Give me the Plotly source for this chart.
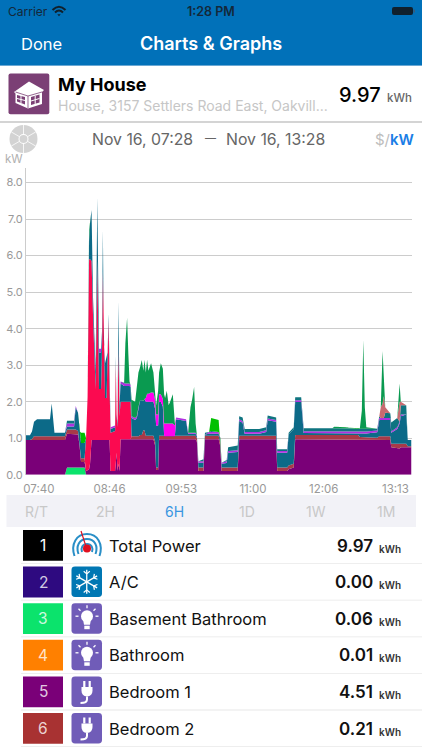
import math
import plotly.graph_objects as go

# minutes after 07:28
minutes = [
    0, 3.7, 5.6, 7.5, 10.3, 22.4, 24.0, 25.5, 26.6, 36.4,
    38.3, 44.9, 46.4, 48.6, 50.0, 51.4, 54.7, 56.1, 57.5, 58.9,
    59.8, 61.2, 62.6, 65.0, 66.6, 67.3, 68.2, 70.1, 71.0, 71.8,
    72.7, 73.8, 75.2, 76.2, 77.1, 78.0, 79.0, 83.2, 83.8, 84.6,
    85.5, 86.3, 87.4, 88.3, 91.6, 92.8, 94.4, 95.6, 96.7, 97.7,
    98.6, 101.9, 103.5, 105.0, 106.5, 108.1, 109.6, 110.6, 111.9, 113.1,
    114.3, 116.8, 119.0, 120.6, 121.5, 123.4, 124.3, 125.9, 127.8, 129.0,
    129.9, 131.5, 133.2, 134.6, 137.1, 139.0, 140.2, 149.5, 151.4, 153.6,
    155.1, 157.0, 158.4, 159.6, 161.0, 165.7, 167.1, 171.0, 172.9, 179.9,
    181.3, 182.7, 187.4, 188.8, 197.7, 199.1, 202.3, 204.2, 217.8, 224.3,
    225.7, 233.6, 234.6, 243.9, 245.3, 250.0, 251.4, 257.0, 259.3, 286.0,
    287.9, 298.1, 310.3, 311.7, 313.6, 315.0, 316.4, 317.8, 328.0, 329.9,
    331.3, 333.0, 334.1, 335.5, 340.2, 341.1, 346.7, 348.9, 350.0, 355.1,
    356.5, 360.0,
]

basement = [
    0, 0, 0, 0, 0, 0, 0, 0, 0, 0,
    .2, .2, .2, .2, .2, .2, .2, 0, 0, 0,
] + [0] * 112

bedroom1 = [
    .95, .95, .95, .95, .95, .95, .95, .95, .95, .95,
    .92, .92, .92, .9, .6, .15, .15, .1, .12, .15,
    .3, .95, .95, .95, .95, .95, .95, .95, .95, .95,
    .95, .95, .95, .95, .95, .95, .1, .1, .3, .6,
    .1, .3, .1, .97, .97, .97, .97, .97, .97, .97,
    .97, .97, .97, .97, .97, .97, .97, .97, .97, .97,
    .97, .97, .97, .8, .13, .13, .97, .97, .97, .97,
    .97, .97, .97, .97, .97, .97, .97, .97, .97, .97,
    .97, .97, .97, .9, .1, .1, .97, .97, .97, .97,
    .8, .1, .1, .1, .1, .97, .97, .97, .97, .97,
    .97, .97, .1, .1, .15, .2, .97, .97, .97, .97,
    .97, .97, .97, .95, .95, .95, .95, .95, .95, .95,
    .95, .95, .95, .95, .95, .75, .72, .72, .75, .75,
    .75, .75,
]

bedroom2 = [
    0, 0, .03, .1, .1, .1, .1, .1, .1, .1,
    .12, .12, .12, .1, .1, .1, .1, 0, 0, 0,
    0, 0, 0, 0, 0, 0, 0, 0, 0, 0,
    0, 0, 0, 0, 0, 0, 0, 0, 0, 0,
    0, 0, 0, 0, 0, 0, 0, 0, 0, 0,
    .08, .08, .08, .08, .12, .12, .25, .25, .1, .1,
    .1, .1, .1, .1, .07, .07, .1, .1, .1, .08,
    .08, .08, .08, .08, .08, .08, .1, .1, .1, .1,
    .1, .1, .1, .1, .1, .1, .1, .1, .1, .1,
    .1, .1, .1, .1, .1, .1, .1, .1, .1, .1,
    .1, .1, .1, .1, .1, .1, .12, .12, .12, .12,
    .12, .12, .12, .08, .08, .08, .08, .08, .06, .1,
    .1, .1, .1, .1, .1, .1, .13, .13, .1, .1,
    .03, .03,
]

pink = [
    0, 0, 0, 0, 0, 0, 0, 0, 0, 0,
    0, 0, 0, 0, 0, 0, 0, .9, 2.0, 5.75,
    5.6, 4.9, 3.4, 1.4, 4.9, 3.0, 1.4, 1.4, 2.5, 4.6,
    2.4, 1.15, 1.15, 2.0, 3.3, 1.5, 1.05, 1.1, 2.75, 1.0,
    1.2, 3.3, 1.5, 1.03, 1.03, 1.03, 1.03, 1.03, 1.03, 1.03,
] + [0] * 82

teal = [
    .13, .13, .2, .4, .47, .47, .9, .4, .1, .1,
    .08, .08, .6, .5, .3, .42, .42, 0, 0, .5,
    1.0, 1.4, .5, .5, 1.75, .5, 1.0, 1.0, .5, 1.15,
    .3, .95, 1.1, .4, .15, .1, .1, .1, .2, .05,
    .1, 1.15, .3, .5, .43, .43, .43, .43, .43, .4,
    .5, .45, .5, .75, .95, .95, .8, .85, .93, .93,
    .93, .93, .93, .9, 1.15, 1.15, .93, .93, .8, 0,
    0, 0, 0, 0, 0, 0, .45, .4, .05, .05,
    .05, .05, .05, .05, .13, .13, .03, .05, .05, .05,
    .1, .1, .12, .4, .42, .4, .35, .05, .05, .1,
    .42, .38, .4, .4, .85, .95, .9, .9, .05, .05,
    .05, .05, .05, .1, .1, .1, .1, .1, .15, .45,
    .45, .45, .45, .45, .45, .3, .4, .55, .75, .8,
    .17, .17,
]

violet = [
    0, 0, 0, 0, 0, 0, 0, 0, 0, 0,
    .08, .08, .04, 0, 0, 0, 0, 0, 0, 0,
    0, 0, 0, 0, 0, 0, .1, .1, 0, 0,
    0, 0, .05, 0, 0, 0, .05, .05, 0, 0,
    0, 0, 0, .05, .07, .07, .07, .07, .07, .05,
    .05, .05, .05, .05, 0, 0, 0, 0, 0, 0,
    0, 0, 0, 0, 0, 0, 0, 0, 0, 0,
    0, 0, 0, 0, 0, 0, .05, .05, .03, .03,
    .03, .03, .03, .03, .04, .04, 0, .05, .05, .05,
    .03, .03, .05, .05, .05, .05, .05, .05, .05, .05,
    .05, .05, .05, .05, 0, 0, .05, .05, .05, .05,
    .05, .05, .05, .05, .05, .05, .05, .05, .05, .05,
    .05, .05, .05, .05, .05, .03, .05, .05, .05, 0,
    0, 0,
]

magenta = [0] * 58 + [
    .1, .22, .22, .25, .25, .25, .3, .3, .2, .2,
    .2, .35, .35, .35, .35, .35, .35, .3,
] + [0] * 56

teal_top = [
    0, 0, 0, 0, 0, 0, 0, 0, 0, 0,
    .08, .08, 0, 0, 0, 0, 0, 0, 0, 0,
] + [0] * 64 + [
    0, .05, .05, 0, .03, 0, 0, 0, .03, .1,
    .13, .08, .1, .08, .08, .08, .08, .07, .05, .05,
    .05, .05, .08, .08, .08, .08, .08, .08, .08, .07,
    .07, .07, .07, .07, .05, .05, 0, 0, 0, .15,
    .13, .25, .25, 0, .25, .25, 0, 0,
]

salmon = [0] * 120 + [.3, .4, .6, .15, 0, 0, 0, .55, .1, 0, 0, 0]

green = [
    0, 0, 0, 0, 0, 0, 0, 0, 0, 0,
    0, 0, 0, 0, 0, 0, 0, 0, 0, .3,
    0, 0, 0, 0, 0, 0, 0, 0, 0, 0,
    0, 0, 0, 0, 0, 0, 0, 0, 0, 0,
    0, 0, 0, 0, 0, 1.1, 1.8, .8, .05, 0,
    .45, .45, .8, .95, .9, 1.1, .83, 1.08, .7, .93,
    .63, .8, .55, .25, .25, .65, .6, .85, .83, .8,
    .7, .9, .5, .6, .8, .05, 0, 0, 0, .7,
    .9, 1.25, .25, 0, 0, 0, 0, 0, 0, 0,
    0, 0, 0, 0, 0, 0, 0, 0, 0, 0,
    0, 0, 0, 0, 0, 0, 0, 0, 0, 0,
    .04, .03, 0, 0, .5, 2.44, .6, .05, 0, 0,
    0, 1.44, .4, 0, 0, 0, 0, .5, 0, 0,
    0, 0,
]

lime = [0] * 15 + [.28, .28] + [0] * 71 + [.35, .33] + [0] * 42

tick_minutes = [12, 78, 145, 212, 278, 345]
tick_labels = ['07:40', '08:46', '09:53', '11:00', '12:06', '13:13']
y_ticks = [0, 1, 2, 3, 4, 5, 6, 7, 8]
y_labels = ['0.0', '1.0', '2.0', '3.0', '4.0', '5.0', '6.0', '7.0', '8.0']

ranges = ['R/T', '2H', '6H', '1D', '1W', '1M']
range_x = [36, 105, 174, 247, 316, 386]

rows = ['Total Power', 'A/C', 'Basement Bathroom', 'Bathroom', 'Bedroom 1', 'Bedroom 2']
row_values = ['9.97', '0.00', '0.06', '0.01', '4.51', '0.21']
row_colors = ['#000000', '#2e0a80', '#0be36c', '#ff8000', '#7a0078', '#a83232']
row_icons = ['gauge', 'snow', 'bulb', 'bulb', 'plug', 'plug']

W, H = 422, 750
FONT = 'Inter'

layers = [
    ('Basement Bathroom', basement, '#0be36c'),
    ('Bedroom 1', bedroom1, '#7a0078'),
    ('Bedroom 2', bedroom2, '#a83a48'),
    ('pink', pink, '#fb0a50'),
    ('teal', teal, '#0c6a88'),
    ('violet', violet, '#b030e0'),
    ('magenta', magenta, '#ff00f0'),
    ('teal top', teal_top, '#0f7480'),
    ('salmon', salmon, '#c86a70'),
    ('green', green, '#0a9a50'),
    ('lime', lime, '#00c000'),
]

fig = go.Figure()
for name, vals, col in layers:
    assert len(vals) == len(minutes), name
    fig.add_trace(go.Scatter(x=minutes, y=vals, name=name, mode='lines', stackgroup='one',
                             line=dict(width=0, color=col), fillcolor=col))


# page pixels -> paper coordinates (margins are zero, so paper == page)
def X(x):
    return x / W


def Y(y):
    return 1 - y / H


def path(d, ox=0, oy=0):
    out = []
    is_x = True
    for tok in d.split():
        if tok.isalpha():
            out.append(tok)
        else:
            v = float(tok)
            out.append(f'{X(v + ox):.5f}' if is_x else f'{Y(v + oy):.5f}')
            is_x = not is_x
    return ' '.join(out)


shapes = []
annotations = []


def fill(d, col, ox=0, oy=0):
    shapes.append(dict(type='path', xref='paper', yref='paper', path=path(d, ox, oy),
                       fillcolor=col, line=dict(width=0)))


def stroke(d, col, w=1.0, ox=0, oy=0):
    shapes.append(dict(type='path', xref='paper', yref='paper', path=path(d, ox, oy),
                       line=dict(color=col, width=w)))


def rect(x0, y0, x1, y1, col):
    shapes.append(dict(type='rect', xref='paper', yref='paper', x0=X(x0), x1=X(x1), y0=Y(y1), y1=Y(y0),
                       fillcolor=col, line=dict(width=0)))


def circle(cx, cy, r, col):
    shapes.append(dict(type='circle', xref='paper', yref='paper', x0=X(cx - r), x1=X(cx + r),
                       y0=Y(cy + r), y1=Y(cy - r), fillcolor=col, line=dict(width=0)))


def rrect(x0, y0, x1, y1, r, col):
    d = (f'M {x0 + r} {y0} L {x1 - r} {y0} Q {x1} {y0} {x1} {y0 + r} L {x1} {y1 - r} Q {x1} {y1} {x1 - r} {y1} '
         f'L {x0 + r} {y1} Q {x0} {y1} {x0} {y1 - r} L {x0} {y0 + r} Q {x0} {y0} {x0 + r} {y0} Z')
    fill(d, col)


def txt(x, y, s, size, col, anchor='left', weight=400):
    annotations.append(dict(xref='paper', yref='paper', x=X(x), y=Y(y), text=s, showarrow=False,
                            xanchor=anchor, yanchor='middle', borderpad=0, borderwidth=0,
                            font=dict(family=FONT, size=size, color=col, weight=weight)))


# header
rect(0, 0, W, 65, '#0171b9')
rect(0, 65, W, 66, '#6aa8d4')
txt(8, 11, 'Carrier', 12, '#14283a')
stroke('M 52.5 10 Q 59 3.5 65.5 10', '#10202c', 2)
stroke('M 55 12.5 Q 59 8.5 63 12.5', '#10202c', 2)
fill('M 57.3 14.3 L 60.7 14.3 L 59 16.2 Z', '#10202c')
txt(211, 11, '1:28 PM', 12.5, '#14283a', 'center', 600)
rrect(392, 7, 413, 15, 2, '#10202c')
rect(413.5, 9.5, 415, 12.5, '#3a5a78')
txt(21, 43.5, 'Done', 16.5, '#ffffff')
txt(211, 43, 'Charts &amp; Graphs', 18, '#ffffff', 'center', 600)

# house row
rrect(8.5, 73.5, 49.3, 114.3, 2, '#7b3f75')
fill('M 14 92 L 29 81.5 L 44 90 L 42 92 L 42 104 L 28 108.5 L 15.5 103 L 15.5 93.5 Z', '#ffffff')
fill('M 17 95 L 25 97 L 25 104.5 L 17 101.5 Z', '#7b3f75')
fill('M 31 97 L 39.5 94.5 L 39.5 102.5 L 31 105 Z', '#7b3f75')
stroke('M 21 94.5 L 21 103 M 17 98.5 L 25 100.5', '#ffffff', 1)
stroke('M 35.2 96 L 35.2 104 M 31 101 L 39.5 98.5', '#ffffff', 1)
stroke('M 15.5 92 L 28 96 L 28 108 M 28 96 L 42 92', '#7b3f75', 0.8)
txt(58, 84.5, 'My House', 18, '#000000', weight=700)
txt(58, 106, 'House, 3157 Settlers Road East, Oakvill...', 14, '#c6c6c6')
txt(339, 95, '9.97', 20, '#000000', weight=500)
txt(387, 97.5, 'kWh', 11.5, '#666666', weight=500)
rect(0, 121, W, 123, '#d4d4d4')

# control row above the chart
circle(23.5, 139, 14, '#d3d3d3')
for i in range(6):
    a = math.radians(30 + 60 * i)
    stroke(f'M {23.5 + 5 * math.cos(a):.2f} {139 + 5 * math.sin(a):.2f} L {23.5 + 14 * math.cos(a):.2f} {139 + 14 * math.sin(a):.2f}',
           '#ffffff', 0.8)
circle(23.5, 139, 5, '#ffffff')
circle(23.5, 139, 4, '#d3d3d3')
txt(92, 139, 'Nov 16, 07:28', 15.8, '#666666')
txt(205, 138, '—', 11, '#666666')
txt(226, 139, 'Nov 16, 13:28', 15.8, '#666666')
txt(375, 139, '$/', 15, '#bdbdbd')
txt(390, 139, 'kW', 15, '#1a7ee6', weight=600)
txt(5, 158.5, 'kW', 11.5, '#b0b0b0')

# time range tabs
rect(6.5, 495, 416, 527, '#f2f2f7')
for lab, x in zip(ranges, range_x):
    txt(x, 511, lab, 14, '#3a96e0' if lab == '6H' else '#c8c8c8', 'center')


def icon_bulb(ox, oy):
    rrect(ox, oy, ox + 30.5, oy + 30.5, 3.5, '#705cb8')
    circle(ox + 15.5, oy + 13, 6, '#ffffff')
    fill('M 11.5 16 L 19.5 16 L 18.5 21.5 L 12.5 21.5 Z', '#ffffff', ox, oy)
    rect(ox + 12.8, oy + 22.5, ox + 18.2, oy + 26, '#ffffff')
    for d in ['M 15.5 2 L 15.5 5', 'M 7 5.5 L 9 7.5', 'M 24 5.5 L 22 7.5', 'M 4 13 L 7 13', 'M 27 13 L 24 13']:
        stroke(d, '#ffffff', 1.3, ox, oy)


def icon_plug(ox, oy):
    rrect(ox, oy, ox + 30.5, oy + 30.5, 3.5, '#705cb8')
    fill('M 10 10.5 L 21 10.5 L 21 14 Q 21 19.5 15.5 20 Q 10 19.5 10 14 Z', '#ffffff', ox, oy)
    stroke('M 12.8 4.5 L 12.8 10.5 M 18.2 4.5 L 18.2 10.5', '#ffffff', 2.2, ox, oy)
    stroke('M 15.5 20 L 15.5 23 Q 15.5 26.5 9 26.5', '#ffffff', 2, ox, oy)


def icon_snow(ox, oy):
    rrect(ox, oy, ox + 30.5, oy + 30.5, 3.5, '#0077b3')
    cx, cy = ox + 15.25, oy + 15.25
    for i in range(6):
        a = math.radians(90 + 60 * i)
        ex, ey = cx + 12 * math.cos(a), cy + 12 * math.sin(a)
        mx, my = cx + 8 * math.cos(a), cy + 8 * math.sin(a)
        stroke(f'M {cx:.2f} {cy:.2f} L {ex:.2f} {ey:.2f}', '#ffffff', 1.3)
        for da in (-50, 50):
            b = a + math.radians(da)
            stroke(f'M {mx:.2f} {my:.2f} L {mx + 4 * math.cos(b):.2f} {my + 4 * math.sin(b):.2f}', '#ffffff', 1.2)


def icon_gauge(ox, oy):
    stroke('M 3 26 C -1 14 5 4 15.5 4 C 26 4 32 14 28 26', '#2a8fc7', 2, ox, oy)
    stroke('M 7 24 C 4 16 8 9 15.5 9 C 23 9 27 16 24 24', '#2a8fc7', 2, ox, oy)
    stroke('M 10.5 22 C 9 18 11 14 15.5 14 C 20 14 22 18 20.5 22', '#2a8fc7', 2, ox, oy)
    stroke('M 9.5 1 L 15 18', '#e01020', 1.2, ox, oy)
    circle(ox + 15.5, oy + 18.5, 4, '#e01020')


# channel rows
for i, (name, val, col, ic) in enumerate(zip(rows, row_values, row_colors, row_icons)):
    top = 530 + 36.6 * i
    rect(23, top, 63, top + 30.8, col)
    txt(43, top + 15.5, str(i + 1), 15.5, '#ffffff' if i == 0 else 'rgba(255,255,255,0.8)', 'center')
    if ic == 'gauge':
        icon_gauge(71.5, top)
    elif ic == 'snow':
        icon_snow(71.5, top)
    elif ic == 'bulb':
        icon_bulb(71.5, top)
    else:
        icon_plug(71.5, top)
    txt(109, top + 15.5, name, 16.5, '#111111')
    txt(373, top + 15.5, val, 17, '#111111', 'right', 600)
    txt(379, top + 18.5, 'kWh', 10, '#333333', weight=600)
    rect(21, top + 33.2, W, top + 34, '#e8e8e8')

fig.update_layout(
    width=W, height=H, autosize=False,
    margin=dict(l=0, r=0, t=0, b=0, pad=0, autoexpand=False),
    paper_bgcolor='#ffffff', plot_bgcolor='#ffffff',
    showlegend=False,
    font=dict(family=FONT, color='#999999'),
    shapes=shapes, annotations=annotations,
    xaxis=dict(domain=[26 / W, 411.5 / W], range=[0, 360], tickmode='array',
               tickvals=tick_minutes, ticktext=tick_labels, showgrid=False, zeroline=False,
               ticks='outside', ticklen=3, tickcolor='rgba(0,0,0,0)',
               tickfont=dict(size=11.5, color='#999999')),
    yaxis=dict(domain=[1 - 474.7 / H, 1 - 168 / H], range=[0, 8.4], tickmode='array',
               tickvals=y_ticks, ticktext=y_labels, showgrid=True, gridcolor='#cccccc', gridwidth=1,
               zeroline=False, showline=True, linecolor='#cccccc', linewidth=1,
               tickfont=dict(size=11, color='#999999')),
)

fig.write_html("out.html", post_script="document.body.style.margin='0'", config=dict(displayModeBar=False))
